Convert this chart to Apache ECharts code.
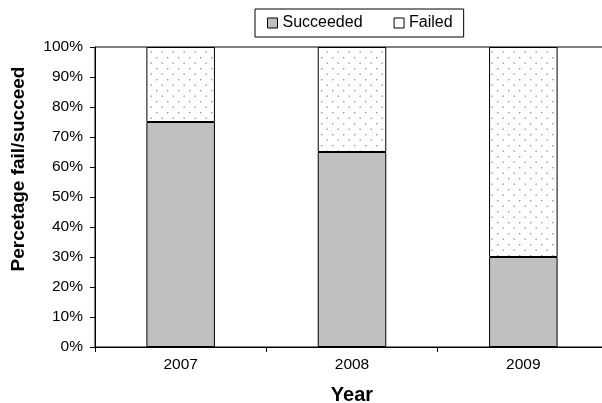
<!DOCTYPE html>
<html><head><meta charset="utf-8">
<script src="https://cdn.jsdelivr.net/npm/echarts@6/dist/echarts.min.js"></script>
<style>html,body{margin:0;padding:0;background:#fff}#c{width:602px;height:403px}</style>
</head><body><div id="c"></div>
<script>
var years = ['2007', '2008', '2009'];
var succeeded = [75, 65, 30];
var failed = [25, 35, 70];
var yTicks = [0, 10, 20, 30, 40, 50, 60, 70, 80, 90, 100];
var yTitle = 'Percetage fail/succeed';
var xTitle = 'Year';

var pc = document.createElement('canvas');
pc.width = 11; pc.height = 11;
var g = pc.getContext('2d');
g.fillStyle = '#fff'; g.fillRect(0, 0, 11, 11);
g.fillStyle = '#999';
g.fillRect(2, 2, 1.4, 1.4);
g.fillRect(7.5, 7.5, 1.4, 1.4);

var chart = echarts.init(document.getElementById('c'), null, {renderer: 'canvas'});
var font = 'Liberation Sans, Arial, sans-serif';
chart.setOption({
  animation: false,
  backgroundColor: '#fff',
  textStyle: {fontFamily: font},
  grid: {left: 95, width: 514, top: 47, bottom: 56, show: true, borderColor: '#000', borderWidth: 1,
         containLabel: false, outerBoundsMode: 'none'},
  graphic: [{
    type: 'text', x: 19, y: 169, rotation: Math.PI / 2,
    style: {text: yTitle, font: 'bold 19px Liberation Sans, Arial, sans-serif', fill: '#000', align: 'center', verticalAlign: 'middle'}
  }],
  legend: {
    top: 9, left: 255,
    padding: [6, 11, 6, 12],
    borderColor: '#000', borderWidth: 1,
    itemGap: 31, itemWidth: 10, itemHeight: 10,
    textStyle: {fontSize: 16, color: '#000', fontFamily: font},
    data: [
      {name: 'Succeeded', icon: 'rect', itemStyle: {color: '#c0c0c0', borderColor: '#000', borderWidth: 1}},
      {name: 'Failed', icon: 'rect', itemStyle: {color: '#fff', borderColor: '#000', borderWidth: 1}}
    ]
  },
  xAxis: {
    type: 'category', data: years,
    name: xTitle, nameLocation: 'middle', nameGap: 38,
    nameTextStyle: {fontSize: 20, fontWeight: 'bold', color: '#000', fontFamily: font, verticalAlign: 'top'},
    axisLine: {lineStyle: {color: '#000', width: 1}},
    axisTick: {show: true, alignWithLabel: false, length: 5, lineStyle: {color: '#000'}},
    axisLabel: {fontSize: 15.5, color: '#000', margin: 10}
  },
  yAxis: {
    type: 'value', min: 0, max: 100, interval: 10,
    axisLine: {show: true, lineStyle: {color: '#000', width: 1}},
    axisTick: {show: true, length: 5, lineStyle: {color: '#000'}},
    splitLine: {show: false},
    axisLabel: {fontSize: 15.5, color: '#000', margin: 12, formatter: function (v) { return yTicks.indexOf(v) >= 0 ? v + '%' : ''; }}
  },
  series: [
    {name: 'Succeeded', type: 'bar', stack: 'a', data: succeeded, barWidth: '40%',
     itemStyle: {color: '#c0c0c0', borderColor: '#000', borderWidth: 1}},
    {name: 'Failed', type: 'bar', stack: 'a', data: failed, barWidth: '40%',
     itemStyle: {color: {image: pc, repeat: 'repeat'}, borderColor: '#000', borderWidth: 1}}
  ]
});
</script></body></html>
